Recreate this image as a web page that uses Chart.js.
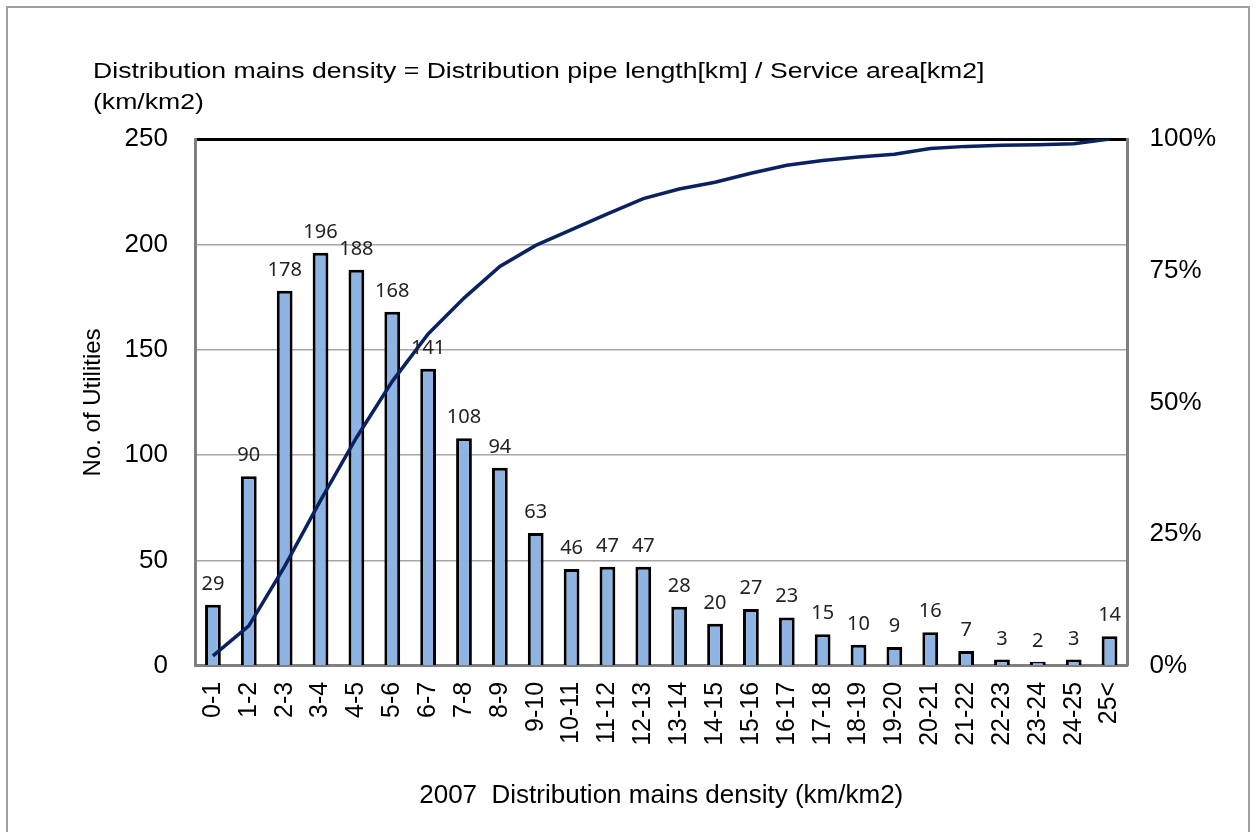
<!DOCTYPE html>
<html>
<head>
<meta charset="utf-8">
<title>Distribution mains density</title>
<script src="https://cdn.jsdelivr.net/npm/chart.js@4/dist/chart.umd.min.js"></script>
<style>
    body { margin: 0; background: #fff; }
    #wrap { position: relative; width: 1257px; height: 832px; overflow: hidden; }
    #frame { position: absolute; left: 6px; top: 6px; width: 1244px; height: 840px; border: 2px solid #a0a0a0; box-sizing: border-box; }
    #chart { position: absolute; left: 0; top: 0; }
</style>
</head>
<body>
<div id="wrap">
    <div id="frame"></div>
    <canvas id="chart" width="1257" height="832"></canvas>
</div>
<script>
// Density classes (km/km2)
const densityClasses = ['0-1', '1-2', '2-3', '3-4', '4-5', '5-6', '6-7', '7-8', '8-9', '9-10',
    '10-11', '11-12', '12-13', '13-14', '14-15', '15-16', '16-17', '17-18', '18-19', '19-20',
    '20-21', '21-22', '22-23', '23-24', '24-25', '25<'];

// Number of utilities in each class
const utilityCounts = [29, 90, 178, 196, 188, 168, 141, 108, 94, 63,
    46, 47, 47, 28, 20, 27, 23, 15, 10, 9,
    16, 7, 3, 2, 3, 14];

// Cumulative share (%)
const cumulativeShare = [1.9, 7.6, 18.9, 31.4, 43.3, 54.0, 63.0, 69.8, 75.8, 79.8,
    82.8, 85.8, 88.7, 90.5, 91.8, 93.5, 95.0, 95.9, 96.6, 97.1,
    98.2, 98.6, 98.8, 98.9, 99.1, 100];

const countTicks = [0, 50, 100, 150, 200, 250];
const shareTicks = [0, 25, 50, 75, 100];

const headerLines = ['Distribution mains density = Distribution pipe length[km] / Service area[km2]', '(km/km2)'];
const xTitle = '2007  Distribution mains density (km/km2)';
const yTitle = 'No. of Utilities';

const axisFont = 'Liberation Sans, Arial, sans-serif';

// Header text above the plot
const headerPlugin = {
    id: 'header',
    afterDraw(chart) {
        const ctx = chart.ctx;
        ctx.save();
        ctx.fillStyle = '#000';
        ctx.font = '22px ' + axisFont;
        ctx.textBaseline = 'alphabetic';
        headerLines.forEach((line, i) => {
            ctx.save();
            ctx.translate(93, 78 + i * 31);
            ctx.scale(1.21, 1);
            ctx.fillText(line, 0, 0);
            ctx.restore();
        });
        ctx.restore();
    }
};

// Value labels above the bars
const barLabelPlugin = {
    id: 'barLabels',
    afterDatasetsDraw(chart) {
        const ctx = chart.ctx;
        const meta = chart.getDatasetMeta(0);
        ctx.save();
        ctx.fillStyle = '#222';
        ctx.font = '20px "Noto Sans", sans-serif';
        ctx.textAlign = 'center';
        ctx.textBaseline = 'alphabetic';
        meta.data.forEach((bar, i) => {
            ctx.fillText(String(utilityCounts[i]), bar.x, bar.y - 15);
        });
        ctx.restore();
    }
};

document.addEventListener('DOMContentLoaded', function() {
    const ctx = document.getElementById('chart').getContext('2d');

    new Chart(ctx, {
        data: {
            labels: densityClasses,
            datasets: [{
                type: 'bar',
                label: 'No. of Utilities',
                data: utilityCounts,
                backgroundColor: '#8db4e2',
                borderColor: '#000',
                borderWidth: 3,
                barPercentage: 0.44,
                categoryPercentage: 1,
                yAxisID: 'y',
                order: 1
            }, {
                type: 'line',
                label: 'Cumulative',
                data: cumulativeShare,
                borderColor: '#0b2262',
                borderWidth: 3.5,
                pointRadius: 0,
                tension: 0,
                fill: false,
                yAxisID: 'y1',
                order: 0
            }]
        },
        options: {
            responsive: false,
            animation: false,
            layout: {
                padding: { left: 79, top: 139, right: 19, bottom: 21 }
            },
            scales: {
                x: {
                    grid: { display: false, drawTicks: false },
                    border: { display: true, color: '#808080', width: 3 },
                    ticks: {
                        color: '#000',
                        font: { family: axisFont, size: 25 },
                        maxRotation: 90,
                        minRotation: 90,
                        autoSkip: false,
                        padding: 16
                    },
                    title: {
                        display: true,
                        text: xTitle,
                        color: '#000',
                        font: { family: axisFont, size: 26 },
                        padding: { top: 18, bottom: 0 }
                    }
                },
                y: {
                    position: 'left',
                    min: 0,
                    max: 250,
                    afterBuildTicks: scale => { scale.ticks = countTicks.map(v => ({ value: v })); },
                    afterFit: scale => { scale.width = 116; },
                    grid: {
                        drawTicks: false,
                        color: c => c.tick && c.tick.value === 250 ? '#000' : '#a6a6a6',
                        lineWidth: c => c.tick && c.tick.value === 250 ? 3 : 1.5
                    },
                    border: { display: true, color: '#808080', width: 3 },
                    ticks: {
                        color: '#000',
                        font: { family: axisFont, size: 26 },
                        padding: 27
                    },
                    title: {
                        display: true,
                        text: yTitle,
                        color: '#000',
                        font: { family: axisFont, size: 24 },
                        padding: { top: 0, bottom: 0 }
                    }
                },
                y1: {
                    position: 'right',
                    min: 0,
                    max: 100,
                    afterBuildTicks: scale => { scale.ticks = shareTicks.map(v => ({ value: v })); },
                    grid: { display: false, drawTicks: false },
                    border: { display: true, color: '#808080', width: 3 },
                    ticks: {
                        color: '#000',
                        font: { family: axisFont, size: 26 },
                        padding: 22,
                        callback: v => v + '%'
                    }
                }
            },
            plugins: {
                legend: { display: false },
                tooltip: { enabled: false }
            }
        },
        plugins: [headerPlugin, barLabelPlugin]
    });
});
</script>
</body>
</html>
